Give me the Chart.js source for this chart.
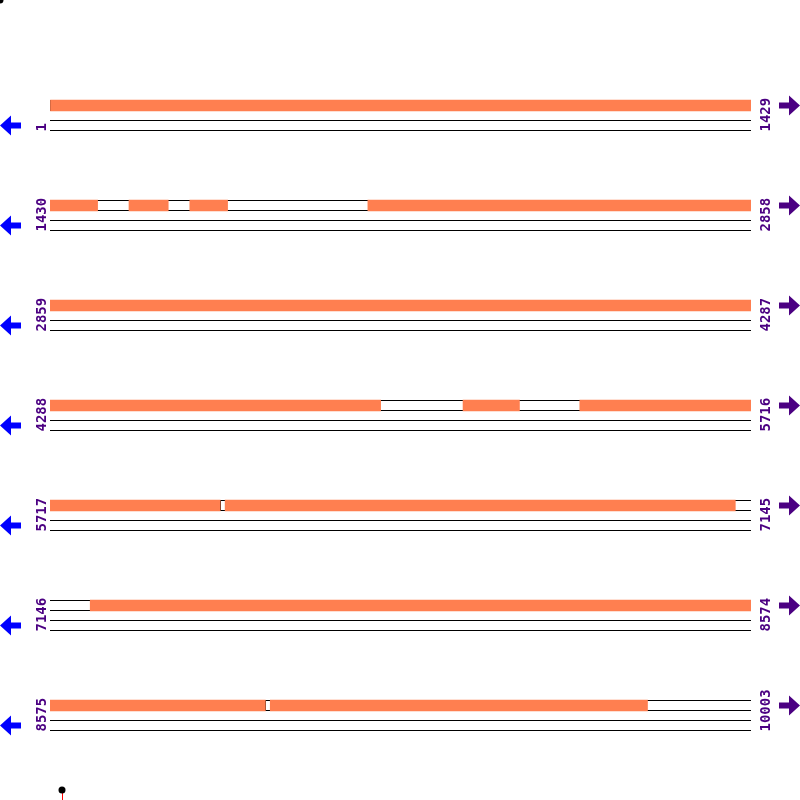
<!DOCTYPE html>
<html>
<head>
<meta charset="utf-8">
<script src="https://cdn.jsdelivr.net/npm/chart.js@4/dist/chart.umd.min.js"></script>
<style>
  html, body { margin: 0; padding: 0; background: #fff; }
  #map-wrap { width: 800px; height: 800px; }
</style>
</head>
<body>
<div id="map-wrap"><canvas id="map-chart" width="800" height="800"></canvas></div>
<script>
// Sequence map: 10003 positions wrapped into 7 rows
const rowStarts = [1, 1430, 2859, 4288, 5717, 7146, 8575];
const rowEnds = [1429, 2858, 4287, 5716, 7145, 8574, 10003];
const rowLength = 1429;

// covered regions (start, end), inclusive
const coveredBlocks = [
    [2, 1429],
    [1430, 1526], [1591, 1670], [1715, 1791], [2078, 2858],
    [2859, 4287],
    [4288, 4961], [5130, 5244], [5368, 5716],
    [5717, 6063], [6074, 7113],
    [7228, 8574],
    [8575, 9013], [9024, 9792]
];

const rowLabels = rowStarts.map((s, i) => s + "-" + rowEnds[i]);

function rowOf(pos) {
    for (let i = 0; i < rowStarts.length; i++) {
        if (pos >= rowStarts[i] && pos <= rowEnds[i]) return i;
    }
    return -1;
}

// bars are placed relative to the start of their row
const barData = coveredBlocks.map(b => {
    const r = rowOf(b[0]);
    return { y: rowLabels[r], x: [b[0] - rowStarts[r], b[1] - rowStarts[r] + 1] };
});

// gaps between covered regions, per row
function rowGaps(r) {
    const blocks = coveredBlocks.filter(b => rowOf(b[0]) === r);
    const gaps = [];
    let cur = rowStarts[r];
    blocks.forEach(b => {
        if (b[0] > cur) gaps.push([cur, b[0] - 1]);
        cur = b[1] + 1;
    });
    if (cur <= rowEnds[r]) gaps.push([cur, rowEnds[r]]);
    return gaps;
}

function drawArrow(ctx, tipX, y, dir, color) {
    // dir = -1 points left, 1 points right
    const back = tipX - dir * 11, tail = tipX - dir * 21;
    ctx.fillStyle = color;
    ctx.beginPath();
    ctx.moveTo(tipX, y);
    ctx.lineTo(back, y - 10);
    ctx.lineTo(back, y - 3);
    ctx.lineTo(tail, y - 3);
    ctx.lineTo(tail, y + 3);
    ctx.lineTo(back, y + 3);
    ctx.lineTo(back, y + 10);
    ctx.closePath();
    ctx.fill();
}

const trackPlugin = {
    id: "tracks",
    beforeDatasetsDraw(chart) {
        const ctx = chart.ctx;
        const xs = chart.scales.x, ys = chart.scales.y;
        const x0 = xs.getPixelForValue(0), x1 = xs.getPixelForValue(rowLength);
        ctx.save();
        ctx.fillStyle = "#000";
        rowLabels.forEach((lab, i) => {
            const yc = ys.getPixelForValue(i);
            [-5.5, 4.5, 14.5, 24.5].forEach(off => {
                ctx.fillRect(x0, Math.round(yc + off), x1 - x0, 1);
            });
            // outline very small gaps
            rowGaps(i).forEach(g => {
                const ga = xs.getPixelForValue(g[0] - rowStarts[i]);
                const gb = xs.getPixelForValue(g[1] - rowStarts[i] + 1);
                if (gb - ga < 8) {
                    ctx.fillRect(Math.floor(ga), Math.round(yc - 5.5), 1, 11);
                    ctx.fillRect(Math.ceil(gb) - 1, Math.round(yc - 5.5), 1, 11);
                }
            });
        });
        ctx.restore();
    },
    afterDatasetsDraw(chart) {
        const ctx = chart.ctx;
        const ys = chart.scales.y;
        ctx.save();
        ctx.font = 'bold 14px "DejaVu Sans Mono", monospace';
        ctx.textAlign = "left";
        ctx.textBaseline = "alphabetic";
        rowLabels.forEach((lab, i) => {
            const yc = ys.getPixelForValue(i);
            ctx.fillStyle = "#4B0082";
            // left (start) label
            ctx.save();
            ctx.translate(46, yc + 26);
            ctx.rotate(-Math.PI / 2);
            ctx.fillText(String(rowStarts[i]), 0, 0);
            ctx.restore();
            // right (end) label
            ctx.save();
            ctx.translate(770, yc + 26);
            ctx.rotate(-Math.PI / 2);
            ctx.fillText(String(rowEnds[i]), 0, 0);
            ctx.restore();

            drawArrow(ctx, 0, yc + 20, -1, "#0000FF");
            drawArrow(ctx, 800, yc, 1, "#4B0082");
        });

        // small markers in the corners
        ctx.fillStyle = "#000";
        ctx.beginPath();
        ctx.arc(0, 0, 3.5, 0, Math.PI * 2);
        ctx.fill();
        ctx.strokeStyle = "#FF0000";
        ctx.lineWidth = 1;
        ctx.beginPath();
        ctx.moveTo(62.5, 791);
        ctx.lineTo(62.5, 800);
        ctx.stroke();
        ctx.beginPath();
        ctx.arc(62, 790, 3.5, 0, Math.PI * 2);
        ctx.fill();
        ctx.restore();
    }
};

const mapCtx = document.getElementById("map-chart").getContext("2d");
let mapChart = new Chart(mapCtx, {
    type: "bar",
    data: {
        labels: rowLabels,
        datasets: [{
            label: "Covered",
            data: barData,
            backgroundColor: "#FF7F50",
            borderWidth: 0,
            barThickness: 11,
            grouped: false
        }]
    },
    options: {
        indexAxis: "y",
        responsive: false,
        animation: false,
        layout: { padding: { left: 50, right: 49, top: 55.5, bottom: 44.5 } },
        scales: {
            x: { type: "linear", min: 0, max: rowLength, display: false },
            y: { type: "category", offset: true, display: false }
        },
        plugins: {
            legend: { display: false },
            tooltip: { enabled: false }
        }
    },
    plugins: [trackPlugin]
});
</script>
</body>
</html>
